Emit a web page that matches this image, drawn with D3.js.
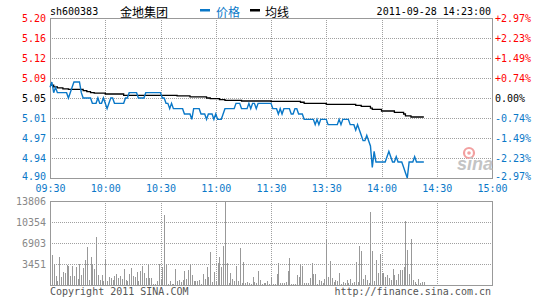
<!DOCTYPE html>
<html><head><meta charset="utf-8">
<script src="https://cdn.jsdelivr.net/npm/d3@7"></script>
<style>
body{margin:0;background:#fff}
svg{display:block}
text{font-family:"DejaVu Sans Mono","Liberation Mono",monospace;font-size:10px}
.cjk{font-family:"Noto Sans CJK SC",sans-serif;font-size:12px}
</style>
</head><body>
<svg id="c" width="545" height="300"></svg>
<script>
// ---------- data ----------
const symbol = "sh600383";
const stockName = "金地集团";
const legendPrice = "价格";
const legendAvg = "均线";
const stamp = "2011-09-28 14:23:00";
const prevClose = 5.05;

const priceLabels = ["5.20","5.16","5.12","5.09","5.05","5.01","4.97","4.94","4.90"];
const pctLabels = ["+2.97%","+2.23%","+1.49%","+0.74%","0.00%","-0.74%","-1.49%","-2.23%","-2.97%"];
const timeLabels = ["09:30","10:00","10:30","11:00","11:30","13:30","14:00","14:30","15:00"];
const volLabels = ["13806","10354","6903","3451"];
const volTickValues = [13806, 10354, 6903, 3451];

// minute-by-minute price (09:30 .. 14:23)
const prices = [
5.07,5.08,5.06,5.07,5.06,5.06,5.06,5.06,5.06,5.06, 5.05,5.06,5.07,5.08,5.08,5.08,5.08,5.06,5.05,5.05,
5.05,5.05,5.05,5.04,5.04,5.04,5.05,5.04,5.04,5.05, 5.04,5.03,5.04,5.05,5.05,5.04,5.04,5.04,5.04,5.04,
5.04,5.05,5.05,5.06,5.06,5.06,5.06,5.06,5.05,5.05, 5.05,5.05,5.06,5.06,5.06,5.06,5.06,5.06,5.06,5.06,
5.06,5.05,5.05,5.04,5.04,5.03,5.04,5.03,5.03,5.03, 5.03,5.03,5.03,5.02,5.02,5.02,5.02,5.01,5.03,5.03,
5.03,5.03,5.02,5.02,5.02,5.01,5.02,5.02,5.02,5.01, 5.02,5.01,5.01,5.01,5.02,5.03,5.03,5.03,5.03,5.03,
5.03,5.04,5.04,5.04,5.03,5.03,5.03,5.03,5.04,5.03, 5.04,5.04,5.03,5.04,5.04,5.04,5.04,5.04,5.04,5.04,
5.04,5.03,5.03,5.03,5.02,5.03,5.02,5.03,5.03,5.03, 5.03,5.02,5.02,5.03,5.03,5.02,5.02,5.02,5.01,5.01,
5.01,5.01,5.01,5.01,5.00,5.01,5.00,5.01,5.01,5.01, 5.01,5.00,5.00,5.00,5.00,5.00,5.00,5.01,5.00,5.01,
5.01,5.01,5.01,5.00,5.00,5.00,4.99,5.00,4.99,4.98, 4.97,4.97,4.98,4.97,4.96,4.92,4.95,4.93,4.93,4.93,
4.93,4.93,4.93,4.94,4.95,4.94,4.93,4.93,4.94,4.93, 4.93,4.93,4.92,4.91,4.90,4.93,4.93,4.93,4.94,4.93,
4.93,4.93,4.93,4.93
];

// average line: [minute, value] plateaus
const avgSteps = [
[0,5.074],[2,5.071],[4,5.069],[7,5.067],[10,5.066],[18,5.064],[20,5.062],[22,5.060],[24,5.059],
[30,5.0575],[40,5.055],[69,5.054],[76,5.052],[85,5.050],[87,5.0487],[92,5.047],[95,5.0456],
[104,5.0444],[120,5.0438],[136,5.042],[138,5.040],[150,5.038],[166,5.036],[169,5.0344],[174,5.031],
[175,5.0288],[180,5.0256],[187,5.0231],[192,5.020],[193,5.0163],[196,5.0144],[203,5.0144]
];

// minute-by-minute volume
const volumes = [
2840,4970,3440,1530,710,4640,1260,2070,1910,3220, 3060,1530,3170,1420,3000,1040,3490,1640,2780,4150,
6170,870,4530,3390,2680,7810,1690,760,1690,710, 4260,710,1370,1090,870,1530,1860,1150,1530,1040,
2680,870,710,1860,2840,1530,1370,2070,710,2350, 3170,1970,1090,3440,1200,1090,220,220,710,3440,
870,3000,11520,3440,220,710,220,220,2680,710, 870,490,870,2350,1040,2510,3390,1690,710,710,
710,870,220,1860,1040,3000,1370,5460,550,2180, 710,3600,4530,3000,6440,13806,3660,380,2020,1040,
710,3170,710,6120,380,3820,380,550,380,220, 1370,550,380,2350,870,220,380,380,710,220,
1370,220,220,1860,3660,380,380,380,550,2350, 4480,220,220,220,1690,1370,3490,3170,380,380,
380,1200,3660,1860,1860,220,870,710,380,1040, 7530,1370,3990,1200,550,870,710,2020,220,550,
380,870,380,1040,380,550,3820,550,6440,5620, 1040,1690,870,380,11960,5620,710,4150,2020,5130,
2020,2020,1370,1690,1200,870,2680,1690,870,1860, 2510,2510,3000,10540,5790,1860,7590,870,550,220,
1040,380,550,550
];

// ---------- layout ----------
const L = 50, R = 492, PT = 18, PB = 178, VT = 201, VB = 285;
const RED = "#ff0000", BLUE = "#0a78c8", GRID = "#a0a0a0", FRAME = "#999999";

const svg = d3.select("#c");
const x = d3.scaleLinear().domain([0, 240]).range([L, R]);
const yP = d3.scaleLinear().domain([4.90, 5.20]).range([PB, PT]);
const yV = d3.scaleLinear().domain([0, 13806]).range([VB, VT]);

const priceTicks = priceLabels.map((_, i) => yP.invert(PT + i * (PB - PT) / (priceLabels.length - 1)));
const timeTicks = timeLabels.map((_, i) => i * 30);
const volGrid = [0.25, 0.5, 0.75].map(f => 13806 * f);

function colorFor(i, mid) { return i < mid ? RED : (i === mid ? "#000" : BLUE); }

// ---------- grids ----------
const grid = svg.append("g").attr("stroke", GRID).attr("stroke-dasharray", "1,1").attr("shape-rendering", "crispEdges");
priceTicks.slice(1, -1).forEach(v => {
  const yy = Math.round(yP(v)) + 0.5;
  grid.append("line").attr("x1", L).attr("x2", R).attr("y1", yy).attr("y2", yy);
});
timeTicks.slice(1, -1).forEach(t => {
  const xx = Math.round(x(t)) + 0.5;
  grid.append("line").attr("x1", xx).attr("x2", xx).attr("y1", PT).attr("y2", PB);
  grid.append("line").attr("x1", xx).attr("x2", xx).attr("y1", VT).attr("y2", VB);
});
volGrid.forEach(v => {
  const yy = Math.round(yV(v)) + 0.5;
  grid.append("line").attr("x1", L).attr("x2", R).attr("y1", yy).attr("y2", yy);
});

// ---------- volume bars ----------
svg.append("g").attr("stroke", "#999").attr("shape-rendering", "crispEdges")
  .selectAll("line").data(volumes).join("line")
  .attr("x1", (d, i) => Math.round(x(i)) + 0.5).attr("x2", (d, i) => Math.round(x(i)) + 0.5)
  .attr("y1", yV(0)).attr("y2", d => yV(d));

// ---------- frames ----------
svg.append("rect").attr("x", L + 0.5).attr("y", PT + 0.5).attr("width", R - L).attr("height", PB - PT)
  .attr("fill", "none").attr("stroke", FRAME).attr("shape-rendering", "crispEdges");
svg.append("rect").attr("x", L + 0.5).attr("y", VT + 0.5).attr("width", R - L).attr("height", VB - VT)
  .attr("fill", "none").attr("stroke", FRAME).attr("shape-rendering", "crispEdges");

// ---------- watermark ----------
const wm = svg.append("g");
wm.append("circle").attr("cx", 469).attr("cy", 153).attr("r", 5).attr("fill", "none").attr("stroke", "#f2a0a0").attr("stroke-width", 2.2);
wm.append("circle").attr("cx", 469).attr("cy", 153).attr("r", 1.8).attr("fill", "#f2a0a0");
wm.append("text").attr("x", 457).attr("y", 170).text("sina")
  .style("font-family", "'Liberation Sans',Arial,sans-serif").style("font-size", "18px")
  .style("font-style", "italic").style("font-weight", "bold").attr("fill", "#c4c4c4");

// ---------- lines ----------
svg.append("path").datum(avgSteps)
  .attr("d", d3.line().x(d => x(d[0])).y(d => yP(d[1])).curve(d3.curveStepAfter))
  .attr("fill", "none").attr("stroke", "#000").attr("stroke-width", 1.3);
svg.append("path").datum(prices)
  .attr("d", d3.line().x((d, i) => x(i)).y(d => yP(d)))
  .attr("fill", "none").attr("stroke", BLUE).attr("stroke-width", 1.4);

// ---------- axes ----------
function styleAxis(g) {
  g.select(".domain").remove();
  g.selectAll(".tick line").remove();
  g.attr("font-family", null).attr("font-size", null);
}
const axL = svg.append("g").attr("transform", `translate(${L - 4},0)`)
  .call(d3.axisLeft(yP).tickValues(priceTicks).tickFormat((d, i) => priceLabels[i]).tickSize(0).tickPadding(0));
styleAxis(axL);
axL.selectAll(".tick text").attr("fill", (d, i) => colorFor(i, 4)).attr("y", (d, i) => i === 8 ? -2 : 0);

const axR = svg.append("g").attr("transform", `translate(${R + 3},0)`)
  .call(d3.axisRight(yP).tickValues(priceTicks).tickFormat((d, i) => pctLabels[i]).tickSize(0).tickPadding(0));
styleAxis(axR);
axR.selectAll(".tick text").attr("fill", (d, i) => colorFor(i, 4)).attr("y", (d, i) => i === 8 ? -2 : 0);

const axB = svg.append("g").attr("transform", `translate(0,${PB + 7})`)
  .call(d3.axisBottom(x).tickValues(timeTicks).tickFormat((d, i) => timeLabels[i]).tickSize(0).tickPadding(0));
styleAxis(axB);
axB.selectAll(".tick text").attr("fill", BLUE);

const axV = svg.append("g").attr("transform", `translate(${L - 4},0)`)
  .call(d3.axisLeft(yV).tickValues(volTickValues).tickFormat((d, i) => volLabels[i]).tickSize(0).tickPadding(0));
styleAxis(axV);
axV.selectAll(".tick text").attr("fill", "#888");

// ---------- header ----------
svg.append("text").attr("x", 50).attr("y", 15).text(symbol).attr("fill", "#000");
svg.append("text").attr("class", "cjk").attr("x", 120).attr("y", 16.5).text(stockName).attr("fill", "#000");
svg.append("rect").attr("x", 200).attr("y", 9).attr("width", 10).attr("height", 2.5).attr("fill", BLUE);
svg.append("text").attr("class", "cjk").attr("x", 216).attr("y", 16.5).text(legendPrice).attr("fill", BLUE);
svg.append("rect").attr("x", 250).attr("y", 9).attr("width", 10).attr("height", 2.5).attr("fill", "#000");
svg.append("text").attr("class", "cjk").attr("x", 265).attr("y", 16.5).text(legendAvg).attr("fill", "#000");
svg.append("text").attr("x", 491).attr("y", 15).attr("text-anchor", "end").text(stamp).attr("fill", "#000");

// ---------- footer ----------
svg.append("text").attr("x", 50).attr("y", 295).text("Copyright 2011 SINA.COM").attr("fill", "#555");
svg.append("text").attr("x", 491).attr("y", 295).attr("text-anchor", "end").text("http://finance.sina.com.cn").attr("fill", "#555");
</script>
</body></html>
